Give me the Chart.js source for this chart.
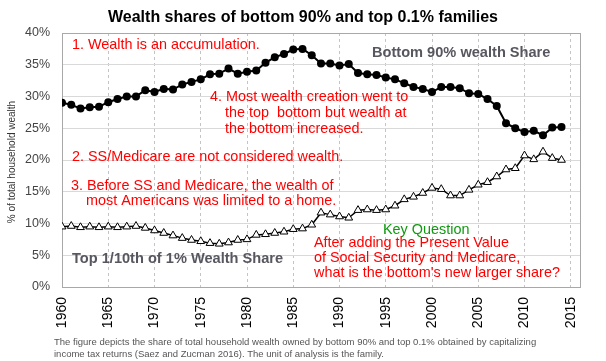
<!DOCTYPE html>
<html>
<head>
<meta charset="utf-8">
<script src="https://cdn.jsdelivr.net/npm/chart.js@4"></script>
<style>
  body { margin: 0; background: #fff; }
  canvas { display: block; }
</style>
</head>
<body>
<canvas id="wealthChart" width="606" height="361"></canvas>
<script>
const years = [1960, 1961, 1962, 1963, 1964, 1965, 1966, 1967, 1968, 1969,
  1970, 1971, 1972, 1973, 1974, 1975, 1976, 1977, 1978, 1979,
  1980, 1981, 1982, 1983, 1984, 1985, 1986, 1987, 1988, 1989,
  1990, 1991, 1992, 1993, 1994, 1995, 1996, 1997, 1998, 1999,
  2000, 2001, 2002, 2003, 2004, 2005, 2006, 2007, 2008, 2009,
  2010, 2011, 2012, 2013, 2014];

// bottom 90% wealth share (%)
const bottom90 = [29.0, 28.7, 28.1, 28.3, 28.4, 29.1, 29.6, 30.0, 30.0, 31.0,
  30.7, 31.2, 31.1, 31.9, 32.3, 32.7, 33.5, 33.6, 34.4, 33.6,
  33.9, 34.1, 35.3, 36.2, 36.7, 37.4, 37.5, 36.5, 35.2, 35.2,
  34.9, 35.1, 33.7, 33.5, 33.4, 33.0, 32.7, 32.1, 31.5, 31.2,
  30.7, 31.5, 31.5, 31.3, 30.5, 30.4, 29.6, 28.5, 25.8, 25.0,
  24.4, 24.6, 23.9, 25.1, 25.2];

// top 0.1% wealth share (%)
const top01 = [9.5, 9.6, 9.4, 9.5, 9.4, 9.5, 9.4, 9.5, 9.6, 9.3,
  8.9, 8.5, 8.1, 7.7, 7.4, 7.2, 6.9, 6.8, 7.0, 7.4,
  7.5, 8.2, 8.3, 8.5, 8.7, 9.1, 9.2, 9.8, 11.7, 11.4,
  11.1, 10.9, 12.1, 12.2, 12.1, 12.2, 12.8, 13.8, 14.2, 14.8,
  15.6, 15.4, 14.4, 14.4, 15.3, 16.1, 16.5, 17.4, 18.5, 18.7,
  20.7, 20.1, 21.3, 20.3, 20.0];

const yTicks = [0, 5, 10, 15, 20, 25, 30, 35, 40];
const xTicks = [1960, 1965, 1970, 1975, 1980, 1985, 1990, 1995, 2000, 2005, 2010, 2015];

const titleText = "Wealth shares of bottom 90% and top 0.1% families";
const yTitle = "% of total household wealth";
const footnote = [
  "The figure depicts the share of total household wealth owned by bottom 90% and top 0.1% obtained by capitalizing",
  "income tax returns (Saez and Zucman 2016). The unit of analysis is the family."
];

// notes: [text, x, y, colour, font]
const red = "#ff0000";
const noteFont = "14.4px Arial";
const labelFont = "bold 14.6px Arial";
const notes = [
  ["1. Wealth is an accumulation.", 72, 45, red, noteFont],
  ["4. Most wealth creation went to", 210, 97, red, noteFont],
  ["the top  bottom but wealth at", 225, 113, red, noteFont],
  ["the bottom increased.", 225, 129, red, noteFont],
  ["2. SS/Medicare are not considered wealth.", 72, 157, red, noteFont],
  ["3. Before SS and Medicare, the wealth of", 71, 186, red, noteFont],
  ["most Americans was limited to a home.", 86, 201, red, noteFont],
  ["Key Question", 383, 230, "#119911", noteFont],
  ["After adding the Present Value", 314, 243, red, noteFont],
  ["of Social Security and Medicare,", 314, 258, red, noteFont],
  ["what is the bottom's new larger share?", 314, 273, red, noteFont],
  ["Bottom 90% wealth Share", 372, 53, "#575760", labelFont],
  ["Top 1/10th of 1% Wealth Share", 72, 259, "#575760", labelFont]
];

const textPlugin = {
  id: "textPlugin",
  beforeDatasetsDraw(chart) {
    const { ctx, chartArea: a } = chart;
    ctx.save();
    ctx.strokeStyle = "#a8a8a8";
    ctx.lineWidth = 1;
    ctx.strokeRect(a.left + 0.5, a.top + 0.5, a.right - a.left, a.bottom - a.top);
    ctx.restore();
  },
  afterDraw(chart) {
    const ctx = chart.ctx;
    ctx.save();
    ctx.textBaseline = "middle";
    ctx.textAlign = "center";
    ctx.fillStyle = "#000";
    ctx.font = "bold 16px Arial";
    ctx.fillText(titleText, 303, 18);

    ctx.save();
    ctx.translate(12, 162);
    ctx.rotate(-Math.PI / 2);
    ctx.font = "10px Arial";
    ctx.fillStyle = "#333";
    ctx.fillText(yTitle, 0, 0);
    ctx.restore();

    ctx.textAlign = "left";
    notes.forEach(n => {
      ctx.font = n[4];
      ctx.fillStyle = n[3];
      ctx.fillText(n[0], n[1], n[2]);
    });

    ctx.font = "9.5px Arial";
    ctx.fillStyle = "#555";
    ctx.fillText(footnote[0], 54, 342);
    ctx.fillText(footnote[1], 54, 354);
    ctx.restore();
  }
};

const ctx = document.getElementById("wealthChart");

new Chart(ctx, {
  type: "line",
  data: {
    datasets: [
      {
        label: "Bottom 90% wealth Share",
        data: years.map((yr, i) => ({ x: yr, y: bottom90[i] })),
        borderColor: "#000",
        backgroundColor: "#000",
        borderWidth: 2,
        pointStyle: "circle",
        pointRadius: 4,
        pointBackgroundColor: "#000",
        pointBorderColor: "#000",
        pointBorderWidth: 0
      },
      {
        label: "Top 1/10th of 1% Wealth Share",
        data: years.map((yr, i) => ({ x: yr, y: top01[i] })),
        borderColor: "#000",
        backgroundColor: "#fff",
        borderWidth: 1.5,
        pointStyle: "triangle",
        pointRadius: 4.5,
        pointBackgroundColor: "#fff",
        pointBorderColor: "#000",
        pointBorderWidth: 1
      }
    ]
  },
  options: {
    responsive: false,
    animation: false,
    devicePixelRatio: 1,
    layout: { padding: { top: 33, right: 26, left: 0, bottom: 0 } },
    plugins: {
      legend: { display: false },
      title: { display: false },
      tooltip: { enabled: false }
    },
    scales: {
      x: {
        type: "linear",
        min: 1960,
        max: 2016,
        afterBuildTicks: s => { s.ticks = xTicks.map(v => ({ value: v })); },
        afterFit: s => { s.height = 74; },
        ticks: {
          autoSkip: false,
          minRotation: 90,
          maxRotation: 90,
          padding: 10,
          color: "#000",
          font: { family: "Arial", size: 14 },
          callback: v => String(v)
        },
        grid: { color: "#c4c4c4", drawTicks: false },
        border: { display: false, dash: [3, 3] }
      },
      y: {
        min: 0,
        max: 40,
        afterBuildTicks: s => { s.ticks = yTicks.map(v => ({ value: v })); },
        afterFit: s => { s.width = 62; },
        ticks: {
          padding: 12,
          color: "#444",
          font: { family: "Arial", size: 12.5 },
          callback: v => v + "%"
        },
        grid: { color: "#d9d9d9", drawTicks: false },
        border: { display: false }
      }
    }
  },
  plugins: [textPlugin]
});
</script>
</body>
</html>
